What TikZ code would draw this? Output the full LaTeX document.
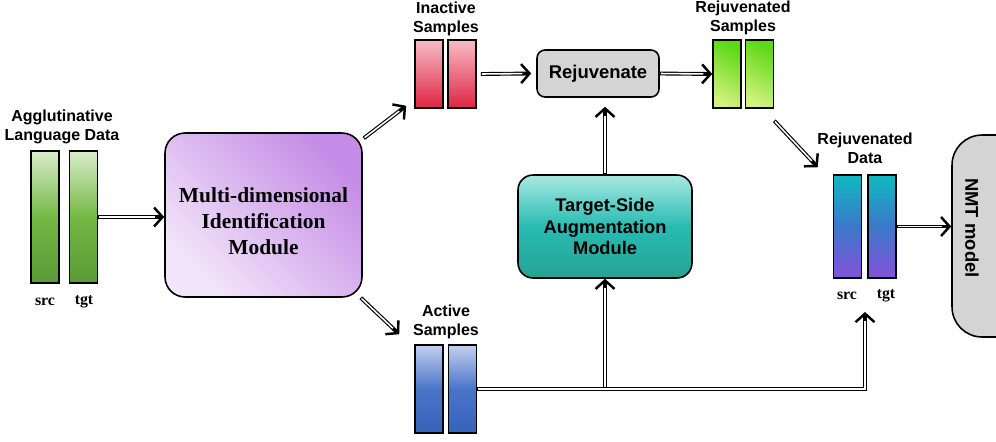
\documentclass[tikz,border=0pt]{standalone}
\usepackage{fontspec}
\setmainfont{Liberation Sans}
\newfontfamily\timesbf{Liberation Serif}
\usepackage{xcolor}
\usetikzlibrary{arrows.meta,calc}

\definecolor{grnA}{HTML}{D9EDCB}
\definecolor{grnB}{HTML}{74B845}
\definecolor{grnC}{HTML}{5A9A35}
\definecolor{redA}{HTML}{F6BCC6}
\definecolor{redC}{HTML}{DF2443}
\definecolor{bluA}{HTML}{C2D0F0}
\definecolor{bluB}{HTML}{4A74C8}
\definecolor{bluC}{HTML}{3563BA}
\definecolor{limA}{HTML}{5ED815}
\definecolor{limC}{HTML}{D0F27E}
\definecolor{rdA}{HTML}{10B9C2}
\definecolor{rdB}{HTML}{3A78C9}
\definecolor{rdC}{HTML}{8452DB}
\definecolor{tealA}{HTML}{A8E9E2}
\definecolor{tealB}{HTML}{28BBB2}
\definecolor{tealC}{HTML}{25A394}
\definecolor{lilA}{HTML}{F3E6FA}
\definecolor{lilC}{HTML}{C48CE6}
\definecolor{boxgray}{HTML}{D4D4D4}

\begin{document}
\begin{tikzpicture}[
  x=0.02cm,y=-0.02cm,
  >={Straight Barb[length=1.7mm,width=3.8mm,line width=1.4pt]},
  bar/.style={draw=black,line width=0.9pt,inner sep=0pt,minimum width=0.56cm,minimum height=#1},
  mod/.style={draw=black,line width=0.9pt,rounded corners=#1,align=center,inner sep=0pt},
  lab/.style={font=\fontsize{9.1}{10.8}\selectfont\bfseries,align=center,inner sep=0pt},
  tag/.style={font=\timesbf\fontsize{9}{10}\selectfont\bfseries,inner sep=0pt},
  arr/.style={->,line width=2.2pt,postaction={draw=white,line width=0.9pt,-,shorten >=5pt,shorten <=0.6pt}}
]
\useasboundingbox (0,0) rectangle (996,441);

% input data
\node[lab] (agl) at (62,127) {Agglutinative\\Language Data};
\node[bar=2.64cm,top color=grnA,bottom color=grnC,middle color=grnB] (src) at (45,217) {};
\node[bar=2.64cm,top color=grnA,bottom color=grnC,middle color=grnB] (tgt) at (83.5,217) {};
\node[tag] (srcA) at (45,302) {src};
\node[tag] (tgtA) at (84,302) {tgt};

% modules
\node[mod=0.4cm,minimum width=3.94cm,minimum height=3.28cm,top color=lilC,bottom color=lilA,shading angle=-45,
  font=\timesbf\fontsize{12.2}{14.9}\selectfont\bfseries] (mim) at (263.5,215) {\rule{0pt}{15.5pt}Multi-dimensional\\Identification\\Module};
\node[mod=0.16cm,minimum width=2.44cm,minimum height=0.94cm,fill=boxgray,
  font=\fontsize{10.5}{12}\selectfont\bfseries] (rej) at (598,73.5) {Rejuvenate};
\node[mod=0.3cm,minimum width=3.48cm,minimum height=2.06cm,top color=tealA,bottom color=tealC,middle color=tealB,
  font=\fontsize{10.4}{12.3}\selectfont\bfseries] (tsa) at (605,226.5) {Target-Side\\Augmentation\\Module};
\node[mod=0.6cm,minimum width=1.92cm,minimum height=4.04cm,fill=boxgray] (nmt) at (1000,236) {};
\node[font=\fontsize{10.5}{12}\selectfont\bfseries,rotate=-90] (nmtlab) at (972,228) {NMT model};

% samples
\node[lab] (inalab) at (446,19) {Inactive\\Samples};
\node[bar=1.36cm,top color=redA,bottom color=redC] (ina1) at (429,74) {};
\node[bar=1.36cm,top color=redA,bottom color=redC] (ina2) at (462,74) {};
\node[lab] (actlab) at (446,322) {Active\\Samples};
\node[bar=1.76cm,top color=bluA,bottom color=bluC,middle color=bluB] (act1) at (429,389) {};
\node[bar=1.76cm,top color=bluA,bottom color=bluC,middle color=bluB] (act2) at (462.5,389) {};
\node[lab] (rjslab) at (743,18) {Rejuvenated\\Samples};
\node[bar=1.36cm,top color=limA,bottom color=limC,shading angle=-30] (rjs1) at (727,74) {};
\node[bar=1.36cm,top color=limA,bottom color=limC,shading angle=-30] (rjs2) at (759.5,74) {};
\node[lab] (rdlab) at (865,148) {Rejuvenated\\Data};
\node[bar=2.06cm,top color=rdA,bottom color=rdC,middle color=rdB] (rd1) at (847.5,226.5) {};
\node[bar=2.06cm,top color=rdA,bottom color=rdC,middle color=rdB] (rd2) at (882,226.5) {};
\node[tag] (srcB) at (847,296) {src};
\node[tag] (tgtB) at (886,296) {tgt};
\coordinate (rdin) at (865,312);

% connectors
\draw[arr] (tgt.east) -- (tgt.east -| mim.west);
\draw[arr] ($(mim.north east)+(1,6)$) -- ($(ina1.south west)+(-8,-3)$);
\draw[arr] ($(mim.south east)+(-2,0)$) -- ($(act1.north west)+(-15,-10)$);
\draw[arr] ($(ina2.east)+(4,0)$) -- ($(rej.west)+(-5,0)$);
\draw[arr] (rej.east) -- (rjs1.west);
\draw[arr] ($(rjs2.south east)+(0,12)$) -- ($(rd1.north west)+(-15,-7)$);
\draw[arr] (tsa.north) -- ($(tsa.north |- rej.south)+(0,9)$);
\draw[arr] (act2.east) -| (tsa.south);
\draw[arr] (act2.east) -| (rdin);
\draw[arr] (rd2.east) -- (rd2.east -| nmt.west);
\end{tikzpicture}
\end{document}
